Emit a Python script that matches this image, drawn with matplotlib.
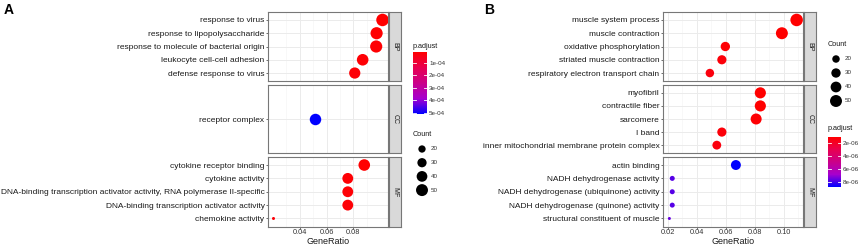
import numpy as np
import matplotlib
matplotlib.use('Agg')
import matplotlib.pyplot as plt
from matplotlib.colors import LinearSegmentedColormap, Normalize
from matplotlib.cm import ScalarMappable

plt.rcParams['font.family'] = ['Liberation Sans', 'DejaVu Sans']

W, H = 864, 250

# ---- panel A data ----
a_terms = ['response to virus', 'response to lipopolysaccharide',
           'response to molecule of bacterial origin', 'leukocyte cell-cell adhesion',
           'defense response to virus',
           'receptor complex',
           'cytokine receptor binding', 'cytokine activity',
           'DNA-binding transcription activator activity, RNA polymerase II-specific',
           'DNA-binding transcription activator activity', 'chemokine activity']
a_onto = ['BP'] * 5 + ['CC'] + ['MF'] * 5
a_ratio = [0.1017, 0.0973, 0.0970, 0.0869, 0.0810,
           0.0516,
           0.0881, 0.0758, 0.0758, 0.0758, 0.0204]
a_count = [55, 52, 52, 47, 44,
           46,
           47, 41, 41, 41, 11]
a_padj = [1.2e-05, 1.5e-05, 1.6e-05, 2.0e-05, 2.2e-05,
          5.1e-04,
          1.4e-05, 1.8e-05, 2.1e-05, 2.3e-05, 2.5e-05]

# ---- panel B data ----
b_terms = ['muscle system process', 'muscle contraction', 'oxidative phosphorylation',
           'striated muscle contraction', 'respiratory electron transport chain',
           'myofibril', 'contractile fiber', 'sarcomere', 'I band',
           'inner mitochondrial membrane protein complex',
           'actin binding', 'NADH dehydrogenase activity',
           'NADH dehydrogenase (ubiquinone) activity',
           'NADH dehydrogenase (quinone) activity', 'structural constituent of muscle']
b_onto = ['BP'] * 5 + ['CC'] * 5 + ['MF'] * 5
b_ratio = [0.1090, 0.0988, 0.0597, 0.0573, 0.0490,
           0.0839, 0.0839, 0.0810, 0.0573, 0.0538,
           0.0670, 0.0230, 0.0230, 0.0230, 0.0210]
b_count = [55, 50, 30, 29, 25,
           43, 43, 42, 29, 27,
           34, 12, 12, 12, 10]
b_padj = [1.08e-06, 1.1e-06, 1.2e-06, 1.3e-06, 1.4e-06,
          1.1e-06, 1.1e-06, 1.2e-06, 1.3e-06, 1.4e-06,
          8.8e-06, 7.8e-06, 7.8e-06, 7.8e-06, 7.6e-06]

a_legend_counts = [20, 30, 40, 50]
b_legend_counts = [20, 30, 40, 50]
a_cbar_ticks = [1e-04, 2e-04, 3e-04, 4e-04, 5e-04]
a_cbar_labels = ['1e-04', '2e-04', '3e-04', '4e-04', '5e-04']
b_cbar_ticks = [2e-06, 4e-06, 6e-06, 8e-06]
b_cbar_labels = ['2e-06', '4e-06', '6e-06', '8e-06']

# red -> blue, roughly the Lab blend ggplot uses
cmap = LinearSegmentedColormap.from_list(
    'padj', [(0, '#FF0000'), (0.25, '#E80050'), (0.5, '#CA0089'),
             (0.75, '#A600CE'), (1, '#0000FF')])

facet_rows = [(12, 81), (85, 153), (157, 226.5)]


def px_axes(fig, x0, y0, x1, y1):
    return fig.add_axes([x0 / W, 1 - y1 / H, (x1 - x0) / W, (y1 - y0) / H])


def dot_size(c, cmin, cmax):
    # area-style scaling like scale_size(), diameter in pixels
    d = 3 + 9.5 * np.sqrt((np.asarray(c, float) - cmin) / (cmax - cmin))
    return (d * 72 / 100) ** 2


def draw_panel(fig, terms, onto, ratio, count, padj, x0, x1, xlim, xticks, minor):
    norm = Normalize(min(padj), max(padj))
    cmin, cmax = min(count), max(count)
    for i, (o, (y0, y1)) in enumerate(zip(['BP', 'CC', 'MF'], facet_rows)):
        idx = [k for k, t in enumerate(onto) if t == o]
        n = len(idx)
        ypos = np.arange(1, n + 1)
        ax = px_axes(fig, x0, y0, x1, y1)
        ax.scatter([ratio[k] for k in idx], ypos,
                   s=dot_size([count[k] for k in idx], cmin, cmax),
                   c=[padj[k] for k in idx], cmap=cmap, norm=norm,
                   linewidths=0, zorder=3)
        ax.set_ylim(n + 0.6, 0.4)
        ax.set_xlim(xlim)
        ax.set_yticks(ypos)
        ax.set_yticklabels([terms[k] for k in idx], fontsize=6, color='#1a1a1a')
        ax.set_xticks(xticks)
        ax.set_xticks(minor, minor=True)
        ax.grid(which='major', color='#EBEBEB', lw=0.7)
        ax.grid(which='minor', axis='x', color='#F3F3F3', lw=0.4)
        ax.set_axisbelow(True)
        ax.tick_params(axis='y', length=1.5, width=0.5, color='#333333', pad=1)
        ax.tick_params(axis='x', which='minor', length=0)
        for sp in ax.spines.values():
            sp.set_color('#777777')
            sp.set_linewidth(0.8)
        if i < 2:
            ax.tick_params(axis='x', which='major', bottom=False, labelbottom=False)
        else:
            ax.set_xticklabels([f'{v:.2f}' for v in xticks])
            ax.tick_params(axis='x', which='major', length=1.5, width=0.5,
                           color='#333333', labelsize=5.3, labelcolor='#333333', pad=0.5)
            ax.set_xlabel('GeneRatio', fontsize=6.5, labelpad=0.5, color='#1a1a1a')
        strip = px_axes(fig, x1 + 0.5, y0, x1 + 13, y1)
        strip.set_facecolor('#D9D9D9')
        strip.set_xticks([])
        strip.set_yticks([])
        for sp in strip.spines.values():
            sp.set_color('#777777')
            sp.set_linewidth(0.8)
        strip.text(0.5, 0.5, o, rotation=-90, ha='center', va='center',
                   fontsize=5, color='#1a1a1a', transform=strip.transAxes)
    return norm, cmin, cmax


def draw_colorbar(fig, norm, box, ticks, labels):
    cax = px_axes(fig, *box)
    cb = fig.colorbar(ScalarMappable(norm=norm, cmap=cmap), cax=cax)
    cb.outline.set_visible(False)
    cax.invert_yaxis()
    cb.set_ticks(ticks)
    cb.set_ticklabels(labels)
    cax.tick_params(length=0, labelsize=4.5, pad=1.5, labelcolor='#333333')
    for t in ticks:
        cax.plot([0, 0.22], [t, t], color='white', lw=0.6, transform=cax.get_yaxis_transform())
        cax.plot([0.78, 1], [t, t], color='white', lw=0.6, transform=cax.get_yaxis_transform())


def draw_size_legend(lax, x, y0, dy, counts, cmin, cmax):
    ys = y0 + dy * np.arange(len(counts))
    lax.scatter([x] * len(counts), ys, s=dot_size(counts, cmin, cmax), color='black',
                linewidths=0)
    for yy, c in zip(ys, counts):
        lax.text(x + 9, yy, str(c), fontsize=4.5, va='center', ha='left', color='#333333')


fig = plt.figure(figsize=(W / 100, H / 100), dpi=100)
fig.patch.set_facecolor('white')

lax = fig.add_axes([0, 0, 1, 1])
lax.set_xlim(0, W)
lax.set_ylim(H, 0)
lax.axis('off')

# panel A
a_norm, a_cmin, a_cmax = draw_panel(fig, a_terms, a_onto, a_ratio, a_count, a_padj,
                                    268, 388, (0.0163, 0.1058), [0.04, 0.06, 0.08],
                                    [0.03, 0.05, 0.07, 0.09])
# panel B
b_norm, b_cmin, b_cmax = draw_panel(fig, b_terms, b_onto, b_ratio, b_count, b_padj,
                                    663, 803, (0.0166, 0.1134),
                                    [0.02, 0.04, 0.06, 0.08, 0.10],
                                    [0.03, 0.05, 0.07, 0.09, 0.11])

lax.text(4, 10, 'A', fontsize=10, fontweight='bold', va='center', ha='left')
lax.text(484, 10, 'B', fontsize=10, fontweight='bold', va='center', ha='left')

# legends A
lax.text(413, 47, 'p.adjust', fontsize=5.2, va='center', ha='left', color='#1a1a1a')
draw_colorbar(fig, a_norm, (413, 52, 427, 114), a_cbar_ticks, a_cbar_labels)
lax.text(413, 135, 'Count', fontsize=5.2, va='center', ha='left', color='#1a1a1a')
draw_size_legend(lax, 422, 149, 13.7, a_legend_counts, a_cmin, a_cmax)

# legends B
lax.text(828, 45, 'Count', fontsize=5.2, va='center', ha='left', color='#1a1a1a')
draw_size_legend(lax, 836, 59, 14, b_legend_counts, b_cmin, b_cmax)
lax.text(828, 129, 'p.adjust', fontsize=5.2, va='center', ha='left', color='#1a1a1a')
draw_colorbar(fig, b_norm, (828, 137, 841, 187), b_cbar_ticks, b_cbar_labels)

fig.savefig('out.png', dpi=100)
